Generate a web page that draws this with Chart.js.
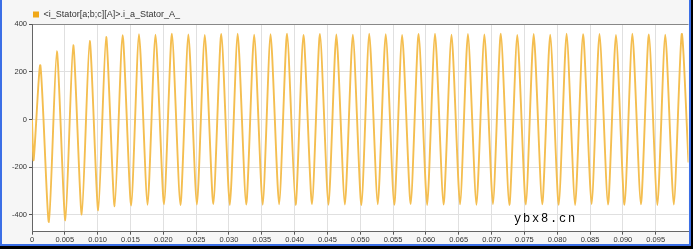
<!DOCTYPE html>
<html>
<head>
<meta charset="utf-8">
<script src="https://cdn.jsdelivr.net/npm/chart.js@4"></script>
<style>
  html, body { margin: 0; padding: 0; background: #000; overflow: hidden; }
  #frame {
    position: absolute; left: 0; top: 0; width: 691px; height: 246px;
    box-sizing: border-box; background: #f6f6f6;
    border-left: 2px solid #3b6fe6; border-right: 2px solid #3b6fe6; border-bottom: 2px solid #3b6fe6;
  }
  #chart { position: absolute; left: 0; top: 0; }
  #mark {
    position: absolute; left: 514px; top: 212px;
    font: 12px "Liberation Mono", monospace; letter-spacing: 1.8px; color: #000;
  }
</style>
</head>
<body>
<div id="frame"></div>
<canvas id="chart" width="693" height="249"></canvas>
<div id="mark">ybx8.cn</div>
<script>
const seriesLabel = '<i_Stator[a;b;c][A]>.i_a_Stator_A_';

// start of the trace (switch-on dip)
const startTimes = [0, 0.00025];
const startValues = [0, -170];

// positive peaks
const peakTimes = [
  0.00127, 0.00378, 0.00628, 0.00879, 0.01129, 0.01380, 0.01630, 0.01881, 0.02131, 0.02382,
  0.02632, 0.02883, 0.03133, 0.03384, 0.03634, 0.03885, 0.04135, 0.04386, 0.04636, 0.04887,
  0.05137, 0.05388, 0.05638, 0.05889, 0.06139, 0.06390, 0.06640, 0.06891, 0.07141, 0.07392,
  0.07642, 0.07893, 0.08143, 0.08394, 0.08644, 0.08895, 0.09145, 0.09396, 0.09646, 0.09897
];
const peakValues = [
  227, 286, 311, 329, 346, 353, 357, 355, 359, 356,
  354, 358, 359, 355, 357, 359, 354, 358, 356, 355,
  359, 357, 354, 358, 359, 355, 358, 356, 359, 354,
  358, 355, 359, 357, 358, 354, 359, 356, 355, 358
];

// negative peaks
const troughTimes = [
  0.00257, 0.00508, 0.00758, 0.01009, 0.01259, 0.01510, 0.01760, 0.02011, 0.02261, 0.02512,
  0.02762, 0.03013, 0.03263, 0.03514, 0.03764, 0.04015, 0.04265, 0.04516, 0.04766, 0.05017,
  0.05267, 0.05518, 0.05768, 0.06019, 0.06269, 0.06520, 0.06770, 0.07021, 0.07271, 0.07522,
  0.07772, 0.08023, 0.08273, 0.08524, 0.08774, 0.09025, 0.09275, 0.09526, 0.09776
];
const troughValues = [
  -429, -422, -398, -380, -364, -360, -357, -355, -358, -356,
  -354, -358, -356, -357, -355, -358, -354, -357, -356, -358,
  -355, -357, -354, -358, -356, -355, -357, -354, -358, -356,
  -355, -357, -358, -354, -356, -357, -355, -358, -356
];

const endTimes = [0.1];
const endValues = [-180];

const xTicks = [0, 0.005, 0.010, 0.015, 0.020, 0.025, 0.030, 0.035, 0.040, 0.045,
  0.050, 0.055, 0.060, 0.065, 0.070, 0.075, 0.080, 0.085, 0.090, 0.095];
const xTickLabels = ['0', '0.005', '0.010', '0.015', '0.020', '0.025', '0.030', '0.035', '0.040', '0.045',
  '0.050', '0.055', '0.060', '0.065', '0.070', '0.075', '0.080', '0.085', '0.090', '0.095'];
const yTicks = [-400, -200, 0, 200, 400];
const yTickLabels = ['-400', '-200', '0', '200', '400'];

const points = [];
startTimes.forEach((t, i) => points.push({ x: t, y: startValues[i] }));
peakTimes.forEach((t, i) => points.push({ x: t, y: peakValues[i] }));
troughTimes.forEach((t, i) => points.push({ x: t, y: troughValues[i] }));
endTimes.forEach((t, i) => points.push({ x: t, y: endValues[i] }));
points.sort((a, b) => a.x - b.x);

const FONT = '"Liberation Sans", Arial, sans-serif';

const plotBackground = {
  id: 'plotBackground',
  afterLayout(chart) {
    // legend sits over the plot's left edge, not the canvas edge
    chart.legend.left = 23;
  },
  beforeDraw(chart) {
    const { ctx, chartArea: a } = chart;
    ctx.save();
    ctx.fillStyle = '#fff';
    ctx.fillRect(a.left, a.top, a.right - a.left, a.bottom - a.top);
    ctx.restore();
  }
};

new Chart(document.getElementById('chart'), {
  type: 'line',
  data: {
    datasets: [{
      label: seriesLabel,
      data: points,
      borderColor: '#f4be50',
      backgroundColor: '#f0a818',
      borderWidth: 1.9,
      pointRadius: 0,
      tension: 0.22,
      fill: false
    }]
  },
  options: {
    responsive: false,
    animation: false,
    layout: { padding: { left: 0, right: 4.5, top: 0, bottom: 0 } },
    plugins: {
      tooltip: { enabled: false },
      legend: {
        position: 'top',
        align: 'start',
        maxHeight: 24,
        labels: {
          boxWidth: 6,
          boxHeight: 6,
          padding: 10,
          color: '#333',
          font: { family: FONT, size: 9 },
          generateLabels: chart => Chart.defaults.plugins.legend.labels.generateLabels(chart)
            .map(l => ({ ...l, lineWidth: 0, fillStyle: '#f0a818' }))
        }
      }
    },
    scales: {
      x: {
        type: 'linear',
        min: 0,
        max: 0.1,
        afterFit: s => { s.height = 17.3; },
        afterBuildTicks: s => { s.ticks = xTicks.map(v => ({ value: v })); },
        grid: { color: '#e0e0e0', tickColor: '#555', tickLength: 3 },
        border: { color: '#666' },
        ticks: {
          callback: (v, i) => xTickLabels[i],
          color: '#333',
          font: { family: FONT, size: 7.5 },
          padding: 1,
          maxRotation: 0,
          autoSkip: false
        }
      },
      y: {
        min: -470,
        max: 400,
        afterFit: s => { s.width = 32; },
        afterBuildTicks: s => { s.ticks = yTicks.map(v => ({ value: v })); },
        grid: {
          color: ctx => (ctx.tick && ctx.tick.value === 400 ? '#888' : '#e0e0e0'),
          tickColor: '#555',
          tickLength: 3
        },
        border: { color: '#666' },
        ticks: {
          callback: (v, i) => yTickLabels[i],
          color: '#333',
          font: { family: FONT, size: 7.5 },
          padding: 2
        }
      }
    }
  },
  plugins: [plotBackground]
});
</script>
</body>
</html>
